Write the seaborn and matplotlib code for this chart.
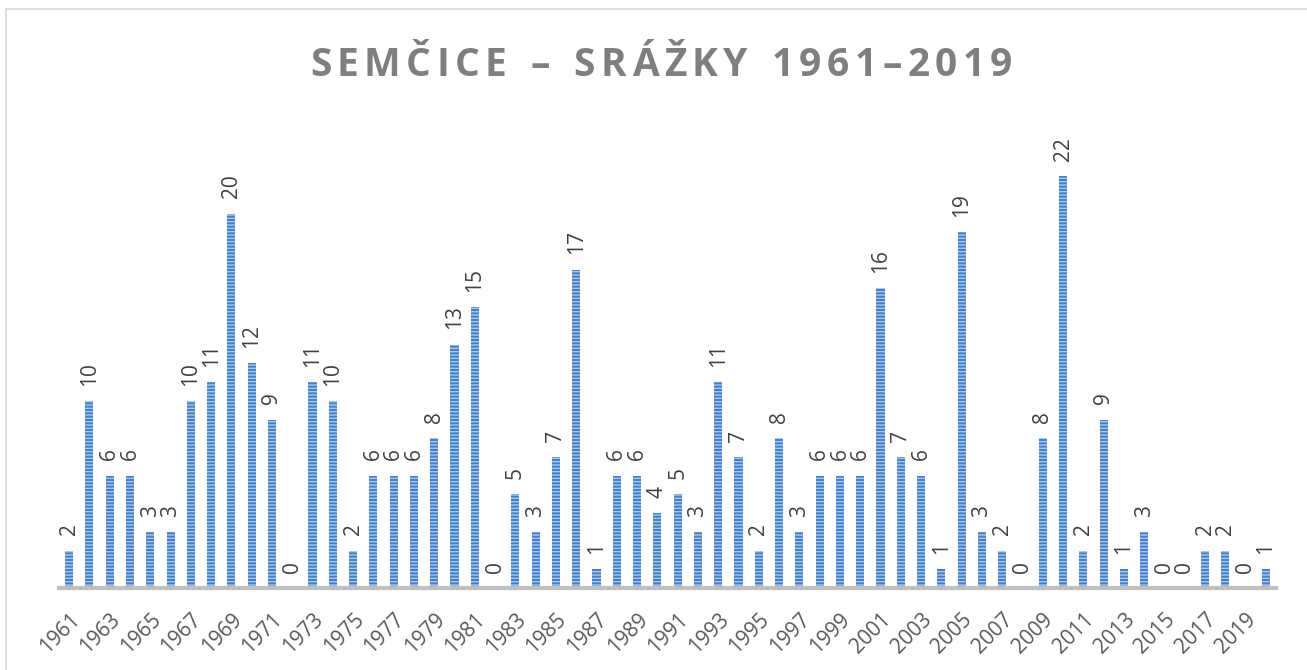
import matplotlib
matplotlib.use("Agg")
import matplotlib.pyplot as plt
import seaborn as sns
import pandas as pd

# yearly counts 1961-2020
years = list(range(1961, 2021))
values = [2, 10, 6, 6, 3, 3, 10, 11, 20, 12,
          9, 0, 11, 10, 2, 6, 6, 6, 8, 13,
          15, 0, 5, 3, 7, 17, 1, 6, 6, 4,
          5, 3, 11, 7, 2, 8, 3, 6, 6, 6,
          16, 7, 6, 1, 19, 3, 2, 0, 8, 22,
          2, 9, 1, 3, 0, 0, 2, 2, 0, 1]
title = "SEMČICE – SRÁŽKY 1961–2019"

sns.set_style("white")
plt.rcParams['font.family'] = ['Open Sans', 'DejaVu Sans']
plt.rcParams['hatch.linewidth'] = 1.0

df = pd.DataFrame({'rok': [str(y) for y in years], 'n': values})

fig = plt.figure(figsize=(13.07, 6.70), dpi=100)
ax = fig.add_axes([59 / 1307, 1 - 588 / 670, 1217 / 1307, 468 / 670])

sns.barplot(data=df, x='rok', y='n', color='#3f7fcf', width=0.4,
            saturation=1, ax=ax)
for p in ax.patches:
    p.set_hatch('-----')
    p.set_edgecolor('#a8c8ee')
    p.set_linewidth(0)

ax.bar_label(ax.containers[0], rotation=90, padding=11, fontsize=15,
             color='#404040')

ax.set_xlim(-0.5, len(years) - 0.5)
ax.set_ylim(0, 25)
ax.set_yticks([])
ax.set_xlabel('')
ax.set_ylabel('')
ticks = list(range(0, len(years), 2))
ax.set_xticks(ticks)
ax.set_xticklabels([str(years[i]) for i in ticks], rotation=45, ha='right',
                   rotation_mode='anchor', fontsize=15, color='#595959')
ax.tick_params(axis='x', length=0, pad=15)
for s in ['top', 'right', 'left']:
    ax.spines[s].set_visible(False)
ax.spines['bottom'].set_color('#bfbfbf')
ax.spines['bottom'].set_linewidth(3)

# title with letter spacing (char by char)
renderer = fig.canvas.get_renderer()
tkw = dict(fontsize=28, fontweight='bold', color='#7f7f7f', va='baseline')
tracking = 5.5
widths = []
for ch in title:
    t = fig.text(0, 0, ch if ch != ' ' else 'a', **tkw)
    w = t.get_window_extent(renderer).width
    if ch == ' ':
        w = w * 0.55
    widths.append(w)
    t.remove()
total = sum(widths) + tracking * (len(title) - 1)
x = 661 - total / 2
ybase = 1 - 76 / 670
for ch, w in zip(title, widths):
    if ch != ' ':
        fig.text(x / 1307, ybase, ch, **tkw)
    x += w + tracking

# chart frame
fig.add_artist(plt.Line2D([6 / 1307, 6 / 1307], [0, 1 - 9 / 670],
                          color='#d9d9d9', lw=1.2))
fig.add_artist(plt.Line2D([6 / 1307, 1], [1 - 9 / 670, 1 - 9 / 670],
                          color='#d9d9d9', lw=1.2))

fig.savefig('out.png', dpi=100)
